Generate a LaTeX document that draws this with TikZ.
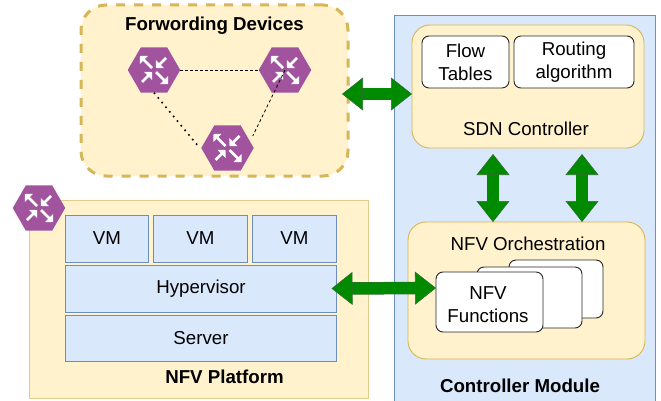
\documentclass[tikz,border=0pt]{standalone}
\usepackage{xcolor}
\usepackage{fontspec}
\setmainfont{Liberation Sans}
\usetikzlibrary{shapes,arrows.meta,positioning,calc}
\definecolor{boxyellow}{HTML}{FFF2CC}
\definecolor{lineyellow}{HTML}{D6B656}
\definecolor{boxblue}{HTML}{DAE8FC}
\definecolor{lineblue}{HTML}{6C8EBF}
\definecolor{routerpurple}{HTML}{A2539E}
\definecolor{flowgreen}{HTML}{008A00}
\definecolor{flowdark}{HTML}{2F6F2F}

\begin{document}
\begin{tikzpicture}[
    x=1pt, y=-1pt,
    txt/.style={font=\fontsize{18.7}{23}\selectfont},
    box/.style={rectangle, draw, line width=0.9pt, outer sep=0pt, inner sep=0pt, align=center, txt},
    panel/.style={box, draw=lineyellow, fill=boxyellow, rounded corners=18pt},
    part/.style={box, draw=lineblue, fill=boxblue},
    card/.style={box, draw=black!85, fill=white, rounded corners=7pt},
    title/.style={font=\fontsize{18.7}{23}\selectfont\bfseries, inner sep=0pt},
    spoke/.style={-{Triangle[length=5.5pt,width=11pt]}, white, line width=2.6pt},
    router/.style={regular polygon, regular polygon sides=6, minimum size=52.5pt, inner sep=0pt, outer sep=0pt, fill=routerpurple,
        path picture={
            \draw[spoke] ([shift={(-12,12)}]path picture bounding box.center) -- ([shift={(-2,2)}]path picture bounding box.center);
            \draw[spoke] ([shift={(2,2)}]path picture bounding box.center) -- ([shift={(14,14)}]path picture bounding box.center);
            \draw[spoke] ([shift={(-2,-2)}]path picture bounding box.center) -- ([shift={(-14,-14)}]path picture bounding box.center);
            \draw[spoke] ([shift={(12,-12)}]path picture bounding box.center) -- ([shift={(2,-2)}]path picture bounding box.center);
        }},
    flow/.style={line width=11.5pt, draw=flowgreen,
        {Triangle[length=21pt,width=33pt,line width=0.6pt,color=flowdark,fill=flowgreen]}-{Triangle[length=21pt,width=33pt,line width=0.6pt,color=flowdark,fill=flowgreen]},
        preaction={draw=flowdark, line width=12.5pt, shorten >=15pt, shorten <=15pt, -}}
]
    \useasboundingbox (0,0) rectangle (661,401);

    \node[box, draw=lineyellow, fill=boxyellow, line width=3pt, dash pattern=on 9pt off 9pt, rounded corners=25pt, minimum width=267pt, minimum height=171pt] (fwd) at (214.5,90.5) {};
    \node[title, below=12pt of fwd.north] (fwdlabel) {Forwording Devices};
    \node[router] (r1) at (154,70) {};
    \node[router] (r2) at (285,70) {};
    \node[router] (r3) at (227.5,148) {};
    \draw[line width=0.8pt, dash pattern=on 3pt off 2pt] (r1) -- (r2);
    \draw[line width=0.8pt, dash pattern=on 3pt off 2.5pt] (r2.center) -- ([shift={(-1,-12)}]r3.east);
    \draw[line width=1.6pt, dash pattern=on 1.6pt off 4.4pt] (r1.south) -- ([shift={(-4,-3)}]r3.west);

    \node[box, draw=lineyellow!70, fill=boxyellow, minimum width=339pt, minimum height=198pt] (platform) at (198.5,299) {};
    \node[router] (r4) at (39,208) {};
    \node[part, minimum width=83pt, minimum height=47pt] (vm1) at (107,238.5) {VM};
    \node[part, minimum width=94pt, minimum height=47pt, right=5pt of vm1] (vm2) {VM};
    \node[part, minimum width=84pt, minimum height=47pt, right=5pt of vm2] (vm3) {VM};
    \node[part, minimum width=271pt, minimum height=47pt] (hyper) at (201,288.5) {Hypervisor};
    \node[part, minimum width=271pt, minimum height=46pt, below=3pt of hyper] (server) {Server};
    \node[title] (platformlabel) at (224.5,376.5) {NFV Platform};

    \node[part, fill=boxblue, minimum width=261pt, minimum height=386pt] (ctrl) at (524.5,208) {};
    \node[title] (ctrllabel) at (520,385.5) {Controller Module};
    \node[panel, minimum width=232pt, minimum height=123pt] (sdn) at (528,86.5) {};
    \node[txt, inner sep=0pt] (sdnlabel) at (526,129) {SDN Controller};
    \node[card, minimum width=87pt, minimum height=52pt] (flowtab) at (465.5,62) {Flow\\Tables};
    \node[card, minimum width=120pt, minimum height=52pt, right=5pt of flowtab] (routing) {Routing\\algorithm};
    \node[panel, minimum width=237pt, minimum height=137pt] (orch) at (526.5,290.5) {};
    \node[txt, inner sep=0pt] (orchlabel) at (528,244) {NFV Orchestration};
    \node[card, minimum width=94pt, minimum height=58pt] (fn3) at (556,289) {};
    \node[card, minimum width=105pt, minimum height=61pt] (fn2) at (529.5,297.5) {};
    \node[card, minimum width=107pt, minimum height=60pt] (fn1) at (489.5,302) {};
    \node[txt, align=center, inner sep=0pt] (fnlabel) at (488,304.5) {NFV\\Functions};

    \draw[flow] ([shift={(-6pt,-3.5pt)}]fwd.east) -- ([yshift=-7.5pt]sdn.west);
    \draw[flow] ([shift={(-35pt,-6pt)}]sdn.south) -- ([xshift=-33.5pt]orch.north);
    \draw[flow] ([shift={(54pt,-6pt)}]sdn.south) -- ([xshift=55.5pt]orch.north);
    \draw[flow] ([xshift=-5pt]hyper.east) -- ([yshift=14pt]fn1.west);
\end{tikzpicture}
\end{document}
